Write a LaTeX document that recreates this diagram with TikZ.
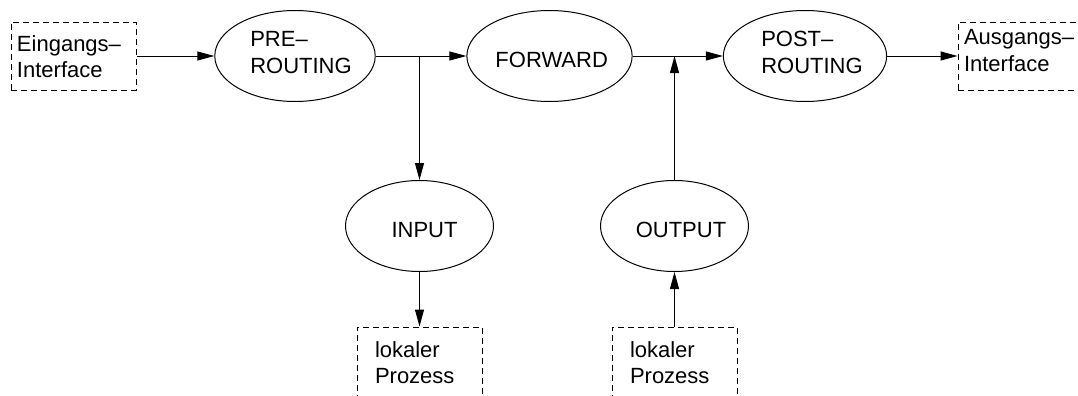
\documentclass[tikz,border=0pt]{standalone}
\usepackage{fontspec}
\setmainfont{Liberation Sans}
\usetikzlibrary{shapes.geometric,arrows.meta}
\tikzset{
  base/.style={font=\fontsize{11}{13.3}\selectfont, line width=0.5pt},
  hook/.style={base, draw, ellipse, minimum width=74pt, minimum height=45.5pt, inner sep=0pt, align=left},
  oneline/.style={text height=11.3pt, text depth=0pt},
  twoline/.style={text height=17.3pt, text depth=0pt},
  iface/.style={base, draw, dashed, dash pattern=on 3pt off 2pt, rectangle, minimum width=62.5pt, minimum height=34pt, inner xsep=3pt, inner ysep=0pt, text width=56.5pt, align=left, text height=0pt},
  arr/.style={line width=0.5pt, -{Triangle[length=8.5pt,width=4.5pt]}},
  ln/.style={line width=0.5pt}
}
\begin{document}
\begin{tikzpicture}[x=0.5pt,y=-0.5pt]
\useasboundingbox (0,0) rectangle (1078,396);
\clip (0,0) rectangle (1078,396);
\node[iface, text depth=5pt] (ein) at (73.5,56) {Eingangs--\\Interface};
\node[iface, text depth=11pt] (aus) at (1020.5,56) {Ausgangs--\\Interface};
\node[hook, twoline] (pre) at (295,56) {\hspace*{6pt}PRE--\\\hspace*{6pt}ROUTING};
\node[hook, oneline] (fwd) at (549.5,56) {\hspace*{2.2pt}FORWARD};
\node[hook, twoline] (post) at (805,56) {\hspace*{7pt}POST--\\\hspace*{7pt}ROUTING};
\node[hook, oneline] (inp) at (419.5,226) {\hspace*{5pt}INPUT};
\node[hook, oneline] (out) at (674.5,226) {\hspace*{6.5pt}OUTPUT};
\node[iface, minimum height=36pt, text depth=6pt] (lp1) at (419.5,363) {\hspace*{6pt}lokaler\\\hspace*{6pt}Prozess};
\node[iface, minimum height=36pt, text depth=6pt] (lp2) at (674.5,363) {\hspace*{6pt}lokaler\\\hspace*{6pt}Prozess};
\coordinate (j1) at (inp.north |- pre.east);
\coordinate (j2) at (out.north |- fwd.east);
\draw[arr] (ein.east) -- (pre.west);
\draw[ln] (pre.east) -- (j1);
\draw[arr] (j1) -- (fwd.west);
\draw[arr] (j1) -- (inp.north);
\draw[arr] (inp.south) -- (lp1.north);
\draw[arr] (fwd.east) -- (post.west);
\draw[arr] (out.north) -- (j2);
\draw[arr] (lp2.north) -- (out.south);
\draw[arr] (post.east) -- (aus.west);
\end{tikzpicture}
\end{document}
